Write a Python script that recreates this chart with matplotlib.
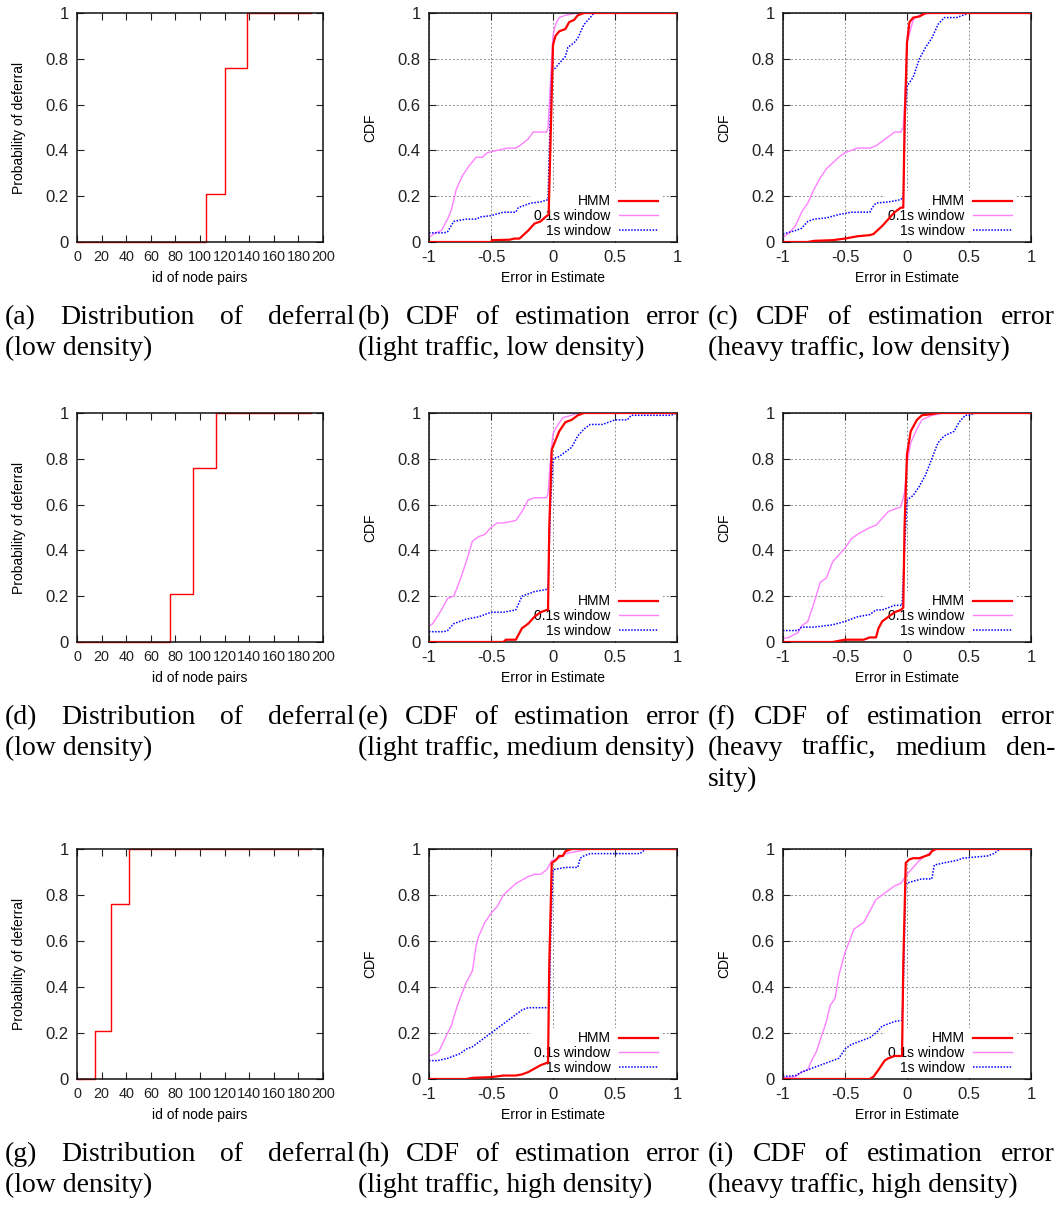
import matplotlib
matplotlib.use('Agg')
import matplotlib.pyplot as plt

plt.rcParams['font.family'] = ['Liberation Sans', 'DejaVu Sans']
plt.rcParams['axes.unicode_minus'] = False
plt.rcParams['axes.axisbelow'] = True

# ---- deferral step curves (id of node pair where probability jumps) ----
defer_levels = [0, 0.21, 0.76, 1.0, 1.0]
defer_x_a = [0, 105, 120, 138, 190]
defer_x_d = [0, 76, 94, 113, 190]
defer_x_g = [0, 14.5, 28, 42, 190]

# ---- CDF of estimation error, (b) light traffic, low density ----
b_hmm_x = [-1, -0.5, -0.49, -0.35, -0.31, -0.27, -0.2, -0.15, -0.1, -0.07, -0.035, 0.0, 0.02, 0.05, 0.1, 0.13, 0.17, 0.2, 0.25, 1]
b_hmm_y = [0, 0, 0.008, 0.01, 0.015, 0.015, 0.05, 0.08, 0.09, 0.105, 0.12, 0.86, 0.9, 0.92, 0.93, 0.96, 0.97, 0.99, 1.0, 1.0]
b_w01_x = [-1, -0.95, -0.9, -0.85, -0.82, -0.78, -0.73, -0.68, -0.62, -0.57, -0.53, -0.45, -0.37, -0.3, -0.27, -0.2, -0.16, -0.05, -0.04, -0.02, 0.0, 0.02, 0.05, 0.1, 0.2, 1]
b_w01_y = [0.02, 0.04, 0.05, 0.1, 0.14, 0.23, 0.29, 0.33, 0.37, 0.37, 0.39, 0.4, 0.41, 0.41, 0.42, 0.45, 0.48, 0.48, 0.5, 0.7, 0.9, 0.95, 0.98, 0.99, 1.0, 1.0]
b_w1_x = [-1, -0.88, -0.85, -0.8, -0.7, -0.62, -0.58, -0.5, -0.4, -0.3, -0.28, -0.18, -0.1, -0.04, -0.03, -0.01, 0.02, 0.05, 0.1, 0.12, 0.17, 0.2, 0.25, 0.3, 0.33, 1]
b_w1_y = [0.04, 0.04, 0.045, 0.09, 0.1, 0.1, 0.11, 0.115, 0.13, 0.13, 0.15, 0.17, 0.175, 0.185, 0.4, 0.75, 0.76, 0.78, 0.81, 0.85, 0.87, 0.89, 0.95, 0.98, 1.0, 1.0]

# ---- (c) heavy traffic, low density ----
c_hmm_x = [-1, -0.8, -0.75, -0.6, -0.5, -0.4, -0.3, -0.27, -0.2, -0.15, -0.1, -0.05, -0.03, -0.02, 0.0, 0.02, 0.05, 0.1, 0.15, 1]
c_hmm_y = [0, 0, 0.005, 0.008, 0.015, 0.025, 0.03, 0.035, 0.07, 0.1, 0.13, 0.15, 0.15, 0.5, 0.87, 0.96, 0.98, 0.985, 1.0, 1.0]
c_w01_x = [-1, -0.95, -0.9, -0.85, -0.8, -0.75, -0.7, -0.65, -0.55, -0.5, -0.45, -0.4, -0.3, -0.25, -0.2, -0.15, -0.1, -0.05, -0.03, -0.01, 0.0, 0.05, 0.1, 0.2, 1]
c_w01_y = [0.02, 0.04, 0.07, 0.13, 0.17, 0.23, 0.28, 0.32, 0.37, 0.39, 0.4, 0.41, 0.41, 0.42, 0.44, 0.46, 0.48, 0.48, 0.5, 0.7, 0.87, 0.97, 0.99, 1.0, 1.0]
c_w1_x = [-1, -0.9, -0.85, -0.8, -0.75, -0.65, -0.55, -0.45, -0.3, -0.28, -0.25, -0.15, -0.1, -0.05, -0.03, -0.015, 0.0, 0.05, 0.1, 0.15, 0.2, 0.25, 0.3, 0.4, 0.45, 0.5, 1]
c_w1_y = [0.035, 0.05, 0.06, 0.09, 0.1, 0.105, 0.12, 0.13, 0.13, 0.15, 0.17, 0.175, 0.18, 0.185, 0.2, 0.55, 0.68, 0.72, 0.8, 0.85, 0.89, 0.95, 0.98, 0.98, 0.99, 1.0, 1.0]

# ---- (e) light traffic, medium density ----
e_hmm_x = [-1, -0.4, -0.38, -0.3, -0.27, -0.25, -0.2, -0.15, -0.1, -0.05, -0.04, -0.03, -0.01, 0.02, 0.05, 0.1, 0.15, 0.2, 0.25, 1]
e_hmm_y = [0, 0, 0.01, 0.01, 0.04, 0.06, 0.08, 0.11, 0.13, 0.14, 0.14, 0.5, 0.84, 0.88, 0.92, 0.96, 0.97, 0.99, 1.0, 1.0]
e_w01_x = [-1, -0.97, -0.9, -0.85, -0.8, -0.75, -0.7, -0.65, -0.6, -0.55, -0.5, -0.45, -0.4, -0.3, -0.25, -0.2, -0.15, -0.05, -0.04, -0.02, 0.0, 0.03, 0.08, 0.15, 0.2, 1]
e_w01_y = [0.07, 0.08, 0.14, 0.19, 0.2, 0.27, 0.35, 0.44, 0.46, 0.47, 0.5, 0.52, 0.52, 0.53, 0.57, 0.62, 0.63, 0.63, 0.65, 0.8, 0.91, 0.94, 0.98, 0.99, 1.0, 1.0]
e_w1_x = [-1, -0.88, -0.85, -0.8, -0.7, -0.6, -0.55, -0.5, -0.4, -0.3, -0.25, -0.2, -0.15, -0.1, -0.05, -0.04, -0.02, 0.0, 0.05, 0.1, 0.15, 0.2, 0.25, 0.3, 0.4, 0.45, 0.5, 0.6, 0.63, 0.95, 1]
e_w1_y = [0.045, 0.045, 0.05, 0.08, 0.1, 0.11, 0.12, 0.13, 0.13, 0.14, 0.2, 0.21, 0.22, 0.225, 0.23, 0.24, 0.6, 0.8, 0.81, 0.83, 0.85, 0.9, 0.93, 0.95, 0.95, 0.96, 0.97, 0.97, 0.99, 0.99, 1.0]

# ---- (f) heavy traffic, medium density ----
f_hmm_x = [-1, -0.6, -0.5, -0.35, -0.3, -0.25, -0.23, -0.2, -0.15, -0.1, -0.05, -0.03, -0.02, 0.0, 0.03, 0.08, 0.12, 0.2, 0.25, 1]
f_hmm_y = [0, 0, 0.01, 0.01, 0.02, 0.02, 0.06, 0.09, 0.11, 0.13, 0.14, 0.15, 0.5, 0.82, 0.92, 0.97, 0.99, 0.995, 1.0, 1.0]
f_w01_x = [-1, -0.95, -0.92, -0.88, -0.85, -0.8, -0.75, -0.7, -0.65, -0.6, -0.55, -0.5, -0.45, -0.4, -0.3, -0.25, -0.2, -0.15, -0.1, -0.05, -0.02, 0.0, 0.03, 0.08, 0.12, 0.2, 0.3, 1]
f_w01_y = [0.015, 0.02, 0.03, 0.04, 0.07, 0.09, 0.17, 0.26, 0.28, 0.35, 0.38, 0.41, 0.45, 0.47, 0.5, 0.51, 0.54, 0.57, 0.58, 0.59, 0.65, 0.78, 0.87, 0.93, 0.97, 0.99, 1.0, 1.0]
f_w1_x = [-1, -0.88, -0.85, -0.75, -0.6, -0.5, -0.4, -0.3, -0.25, -0.2, -0.15, -0.1, -0.04, -0.02, 0.0, 0.05, 0.1, 0.15, 0.2, 0.25, 0.3, 0.38, 0.42, 0.47, 0.5, 0.55, 1]
f_w1_y = [0.05, 0.05, 0.065, 0.065, 0.075, 0.09, 0.11, 0.12, 0.14, 0.14, 0.15, 0.16, 0.16, 0.4, 0.62, 0.64, 0.68, 0.73, 0.8, 0.87, 0.9, 0.92, 0.96, 0.99, 0.99, 1.0, 1.0]

# ---- (h) light traffic, high density ----
h_hmm_x = [-1, -0.7, -0.65, -0.5, -0.4, -0.3, -0.25, -0.2, -0.15, -0.1, -0.05, -0.04, -0.03, -0.01, 0.02, 0.05, 0.08, 0.1, 0.15, 1]
h_hmm_y = [0, 0, 0.005, 0.008, 0.015, 0.015, 0.02, 0.03, 0.045, 0.06, 0.07, 0.07, 0.5, 0.94, 0.95, 0.97, 0.97, 0.99, 1.0, 1.0]
h_w01_x = [-1, -0.95, -0.92, -0.85, -0.82, -0.8, -0.77, -0.75, -0.7, -0.65, -0.62, -0.6, -0.55, -0.5, -0.45, -0.4, -0.3, -0.2, -0.15, -0.1, -0.05, -0.03, -0.01, 0.05, 0.1, 0.2, 0.3, 1]
h_w01_y = [0.1, 0.11, 0.12, 0.2, 0.23, 0.27, 0.32, 0.35, 0.42, 0.47, 0.58, 0.62, 0.68, 0.72, 0.75, 0.8, 0.85, 0.88, 0.89, 0.89, 0.91, 0.93, 0.95, 0.96, 0.98, 0.99, 1.0, 1.0]
h_w1_x = [-1, -0.93, -0.85, -0.8, -0.75, -0.7, -0.65, -0.6, -0.55, -0.5, -0.45, -0.4, -0.35, -0.3, -0.25, -0.2, -0.1, -0.03, -0.02, 0.0, 0.1, 0.2, 0.22, 0.25, 0.3, 0.7, 0.75, 1]
h_w1_y = [0.08, 0.08, 0.09, 0.1, 0.11, 0.13, 0.14, 0.16, 0.18, 0.2, 0.22, 0.24, 0.26, 0.28, 0.3, 0.31, 0.31, 0.31, 0.6, 0.91, 0.92, 0.92, 0.96, 0.97, 0.98, 0.98, 1.0, 1.0]

# ---- (i) heavy traffic, high density ----
i_hmm_x = [-1, -0.3, -0.27, -0.23, -0.18, -0.15, -0.1, -0.04, -0.03, -0.01, 0.02, 0.05, 0.1, 0.15, 0.18, 0.2, 0.23, 1]
i_hmm_y = [0, 0, 0.01, 0.04, 0.08, 0.09, 0.1, 0.1, 0.5, 0.94, 0.955, 0.96, 0.96, 0.97, 0.975, 0.99, 1.0, 1.0]
i_w01_x = [-1, -0.9, -0.85, -0.8, -0.77, -0.73, -0.7, -0.65, -0.62, -0.58, -0.55, -0.5, -0.45, -0.43, -0.38, -0.35, -0.3, -0.25, -0.2, -0.15, -0.1, -0.05, 0.0, 0.05, 0.1, 0.15, 0.2, 0.25, 1]
i_w01_y = [0.005, 0.01, 0.03, 0.04, 0.08, 0.12, 0.17, 0.25, 0.32, 0.35, 0.45, 0.55, 0.62, 0.65, 0.67, 0.68, 0.73, 0.78, 0.8, 0.82, 0.84, 0.85, 0.89, 0.92, 0.95, 0.97, 0.99, 1.0, 1.0]
i_w1_x = [-1, -0.9, -0.85, -0.8, -0.75, -0.7, -0.6, -0.55, -0.5, -0.45, -0.4, -0.3, -0.25, -0.2, -0.15, -0.1, -0.04, -0.03, -0.01, 0.05, 0.12, 0.2, 0.22, 0.3, 0.4, 0.45, 0.55, 0.65, 0.7, 0.75, 1]
i_w1_y = [0.01, 0.015, 0.03, 0.04, 0.05, 0.06, 0.08, 0.09, 0.13, 0.15, 0.16, 0.18, 0.2, 0.23, 0.24, 0.25, 0.255, 0.4, 0.85, 0.86, 0.87, 0.87, 0.93, 0.94, 0.95, 0.96, 0.965, 0.97, 0.98, 1.0, 1.0]

series_names = ['HMM', '0.1s window', '1s window']

captions = [
    (['(a) Distribution of deferral', '(low density)'], 1),
    (['(b) CDF of estimation error', '(light traffic, low density)'], 1),
    (['(c) CDF of estimation error', '(heavy traffic, low density)'], 1),
    (['(d) Distribution of deferral', '(low density)'], 1),
    (['(e) CDF of estimation error', '(light traffic, medium density)'], 1),
    (['(f) CDF of estimation error', '(heavy traffic, medium den-', 'sity)'], 2),
    (['(g) Distribution of deferral', '(low density)'], 1),
    (['(h) CDF of estimation error', '(light traffic, high density)'], 1),
    (['(i) CDF of estimation error', '(heavy traffic, high density)'], 1),
]

W, H = 1058, 1205
fig = plt.figure(figsize=(W / 100, H / 100), dpi=100)

col_l = [77, 429, 783]
col_r = [323, 677, 1031]
row_t = [13, 413, 849]
row_b = [242, 642, 1079]
cap_l = [5, 358, 708]
cap_r = [354, 700, 1055]
cap_y = [324, 724, 1161]   # baseline of first caption line
line_gap = 31
tick_fs = 12
lab_fs = 10


def px_axes(c, r):
    return fig.add_axes([col_l[c] / W, 1 - row_b[r] / H,
                         (col_r[c] - col_l[c]) / W, (row_b[r] - row_t[r]) / H])


def frame(ax):
    ax.set_ylim(0, 1)
    ax.set_yticks([0, 0.2, 0.4, 0.6, 0.8, 1.0])
    ax.set_yticklabels(['0', '0.2', '0.4', '0.6', '0.8', '1'])
    ax.tick_params(direction='in', top=True, right=True, length=5, width=0.8,
                   labelsize=tick_fs, pad=6, colors='#222222')
    for s in ax.spines.values():
        s.set_linewidth(1.1)
        s.set_color('#111111')


def deferral_panel(r, xs):
    ax = px_axes(0, r)
    ax.step(xs, defer_levels, where='post', color='#ff0000', lw=1.0, clip_on=False)
    ax.set_xlim(0, 200)
    ax.set_xticks(range(0, 201, 20))
    ax.set_xticklabels([str(v) for v in range(0, 201, 20)])
    frame(ax)
    # labels of 100..200 sit shoulder to shoulder, as in the original
    ax.tick_params(axis='x', labelsize=10.4)
    ax.text(-0.235, 0.5, 'Probability of deferral', transform=ax.transAxes,
            rotation=90, ha='center', va='center', fontsize=lab_fs)
    ax.text(0.5, -0.157, 'id of node pairs', transform=ax.transAxes,
            ha='center', va='center', fontsize=lab_fs)


def cdf_panel(c, r, hx, hy, px, py, bx, by):
    ax = px_axes(c, r)
    ax.grid(True, color='#909090', lw=0.7, ls=(0, (2, 2)))
    ax.plot(hx, hy, color='#ff0000', lw=1.6, label=series_names[0], zorder=3)
    ax.plot(px, py, color='#ff80ff', lw=1.0, label=series_names[1], zorder=2)
    ax.plot(bx, by, color='#0000ff', lw=1.1, ls=(0, (1, 1)), label=series_names[2], zorder=2)
    ax.set_xlim(-1, 1)
    ax.set_xticks([-1, -0.5, 0, 0.5, 1])
    ax.set_xticklabels(['-1', '-0.5', '0', '0.5', '1'])
    frame(ax)
    leg = ax.legend(loc='lower right', bbox_to_anchor=(0.94, 0.0), markerfirst=False,
                    frameon=True, fancybox=False, edgecolor='none', facecolor='white',
                    framealpha=1, fontsize=lab_fs, handlelength=2.8, handletextpad=0.6,
                    labelspacing=0.05, borderpad=0.25, borderaxespad=0.05)
    leg.set_zorder(1)
    ax.text(-0.238, 0.5, 'CDF', transform=ax.transAxes,
            rotation=90, ha='center', va='center', fontsize=lab_fs)
    ax.text(0.5, -0.157, 'Error in Estimate', transform=ax.transAxes,
            ha='center', va='center', fontsize=lab_fs)


deferral_panel(0, defer_x_a)
deferral_panel(1, defer_x_d)
deferral_panel(2, defer_x_g)
cdf_panel(1, 0, b_hmm_x, b_hmm_y, b_w01_x, b_w01_y, b_w1_x, b_w1_y)
cdf_panel(2, 0, c_hmm_x, c_hmm_y, c_w01_x, c_w01_y, c_w1_x, c_w1_y)
cdf_panel(1, 1, e_hmm_x, e_hmm_y, e_w01_x, e_w01_y, e_w1_x, e_w1_y)
cdf_panel(2, 1, f_hmm_x, f_hmm_y, f_w01_x, f_w01_y, f_w1_x, f_w1_y)
cdf_panel(1, 2, h_hmm_x, h_hmm_y, h_w01_x, h_w01_y, h_w1_x, h_w1_y)
cdf_panel(2, 2, i_hmm_x, i_hmm_y, i_w01_x, i_w01_y, i_w1_x, i_w1_y)

# captions, justified like the LaTeX subfigure text
renderer = fig.canvas.get_renderer()
cap_font = dict(fontsize=20, family='Liberation Serif', va='baseline', ha='left')
for n, (lines, n_just) in enumerate(captions):
    c, r = n % 3, n // 3
    for k, line in enumerate(lines):
        y = 1 - (cap_y[r] + k * line_gap) / H
        if k >= n_just:
            fig.text(cap_l[c] / W, y, line, **cap_font)
            continue
        words = line.split(' ')
        texts = [fig.text(0, y, w, **cap_font) for w in words]
        widths = [t.get_window_extent(renderer).width for t in texts]
        gap = (cap_r[c] - cap_l[c] - sum(widths)) / (len(words) - 1)
        x = cap_l[c]
        for t, w in zip(texts, widths):
            t.set_x(x / W)
            x += w + gap

fig.savefig('out.png', dpi=100)
